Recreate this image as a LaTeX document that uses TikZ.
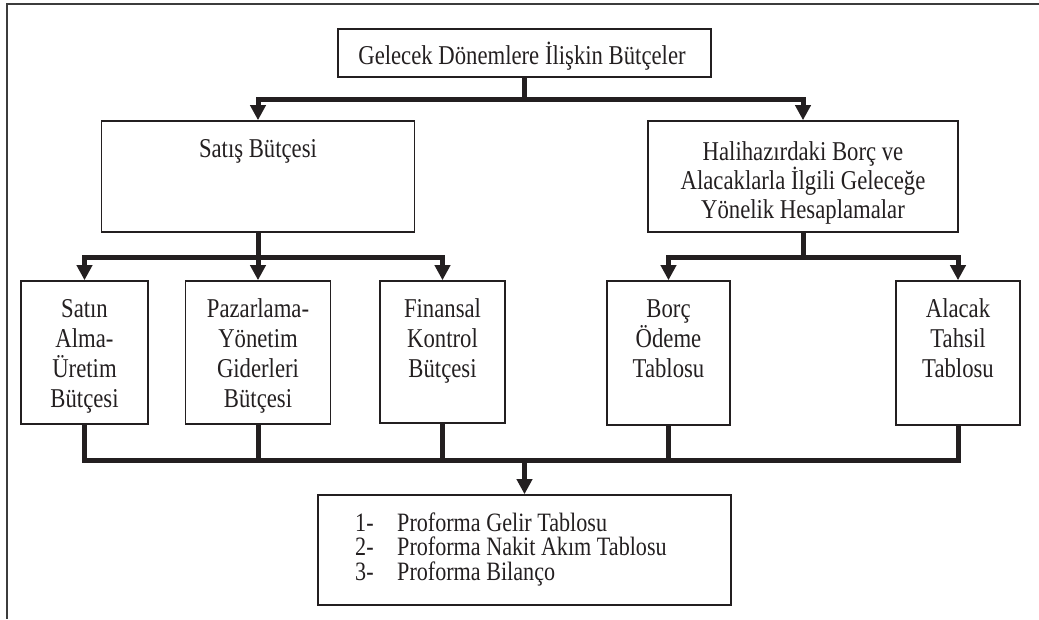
\documentclass[tikz,border=0pt]{standalone}
\usepackage{fontspec}
\setmainfont{Liberation Serif}
\newfontfamily\tallrm[FakeStretch=0.835]{Liberation Serif}
\usetikzlibrary{arrows.meta}
\definecolor{ink}{HTML}{231F20}
\definecolor{framec}{HTML}{3C3C3C}
\newcommand\fsz{\fontsize{27.2pt}{30pt}\tallrm}
\newcommand\fszb{\fontsize{27.2pt}{29pt}\tallrm}
\newcommand\fszc{\fontsize{26.5pt}{24.5pt}\tallrm}
\newcommand\fst{\rule{0pt}{24pt}}
\tikzset{
  box/.style={draw=ink, line width=1.6pt, inner sep=0pt},
  txt/.style={anchor=north, inner sep=0pt, align=center, text=ink, font=\fsz},
  conn/.style={draw=ink, line width=5pt},
  tip/.tip={Triangle[width=15pt,length=15pt]},
  arr/.style={conn, -tip},
  arrtwo/.style={conn, tip-tip},
  frameline/.style={draw=framec, line width=2pt}
}
\begin{document}
\begin{tikzpicture}[x=1pt,y=-1pt]
\useasboundingbox (0,0) rectangle (1039,619);
\draw[frameline] (1039,4.3) -- (7,4.3) -- (7,619);

% boxes
\node[box, minimum width=373pt, minimum height=48pt] (top) at (524.5,53) {};
\node[txt] (topT) at (522,40.5) {\fst Gelecek Dönemlere İlişkin Bütçeler};

\node[box, minimum width=313pt, minimum height=111pt] (sales) at (258,176.5) {};
\node[txt] (salesT) at (258,133) {\fst Satış Bütçesi};

\node[box, minimum width=310pt, minimum height=111pt] (hali) at (803,176.5) {};
\node[txt, font=\fszb] (haliT) at (803,136) {\fst Halihazırdaki Borç ve\\Alacaklarla İlgili Geleceğe\\Yönelik Hesaplamalar};

\node[box, minimum width=127pt, minimum height=143pt] (satin) at (84.5,352.5) {};
\node[txt] (satinT) at (84.5,293) {\fst Satın\\Alma-\\Üretim\\Bütçesi};

\node[box, minimum width=145pt, minimum height=143pt] (paz) at (258,352.5) {};
\node[txt] (pazT) at (258,293) {\fst Pazarlama-\\Yönetim\\Giderleri\\Bütçesi};

\node[box, minimum width=125pt, minimum height=142pt] (fin) at (442.5,352) {};
\node[txt] (finT) at (442.5,293) {\fst Finansal\\Kontrol\\Bütçesi};

\node[box, minimum width=123pt, minimum height=144pt] (borc) at (668.5,353) {};
\node[txt] (borcT) at (668.5,293) {\fst Borç\\Ödeme\\Tablosu};

\node[box, minimum width=124pt, minimum height=144pt] (alacak) at (958,353) {};
\node[txt] (alacakT) at (958,293) {\fst Alacak\\Tahsil\\Tablosu};

\node[box, minimum width=413pt, minimum height=110pt] (res) at (524.5,550) {};
\node[txt, anchor=north west, align=left, font=\fszc] (resT) at (355,507)
  {\fst\makebox[42pt][l]{1-}Proforma Gelir Tablosu\\
   \makebox[42pt][l]{2-}Proforma Nakit Akım Tablosu\\
   \makebox[42pt][l]{3-}Proforma Bilanço};

% connectors
\coordinate (j1) at (524.5,99);
\draw[conn] (top.south) -- (j1);
\draw[arrtwo] (sales.north) |- (j1) -| (hali.north);

\coordinate (j2) at (258,257);
\draw[conn] (sales.south) -- (j2);
\draw[arrtwo] (satin.north) |- (j2) -| (fin.north);
\draw[arr] (j2) -- (paz.north);

\coordinate (j3) at (803,257);
\draw[conn] (hali.south) -- (j3);
\draw[arrtwo] (borc.north) |- (j3) -| (alacak.north);

\coordinate (bus) at (524.5,460);
\draw[conn] (satin.south) |- (bus) -| (alacak.south);
\draw[conn] (paz.south) -- (paz.south |- bus);
\draw[conn] (fin.south) -- (fin.south |- bus);
\draw[conn] (borc.south) -- (borc.south |- bus);
\draw[arr] (bus) -- (res.north);
\end{tikzpicture}
\end{document}
